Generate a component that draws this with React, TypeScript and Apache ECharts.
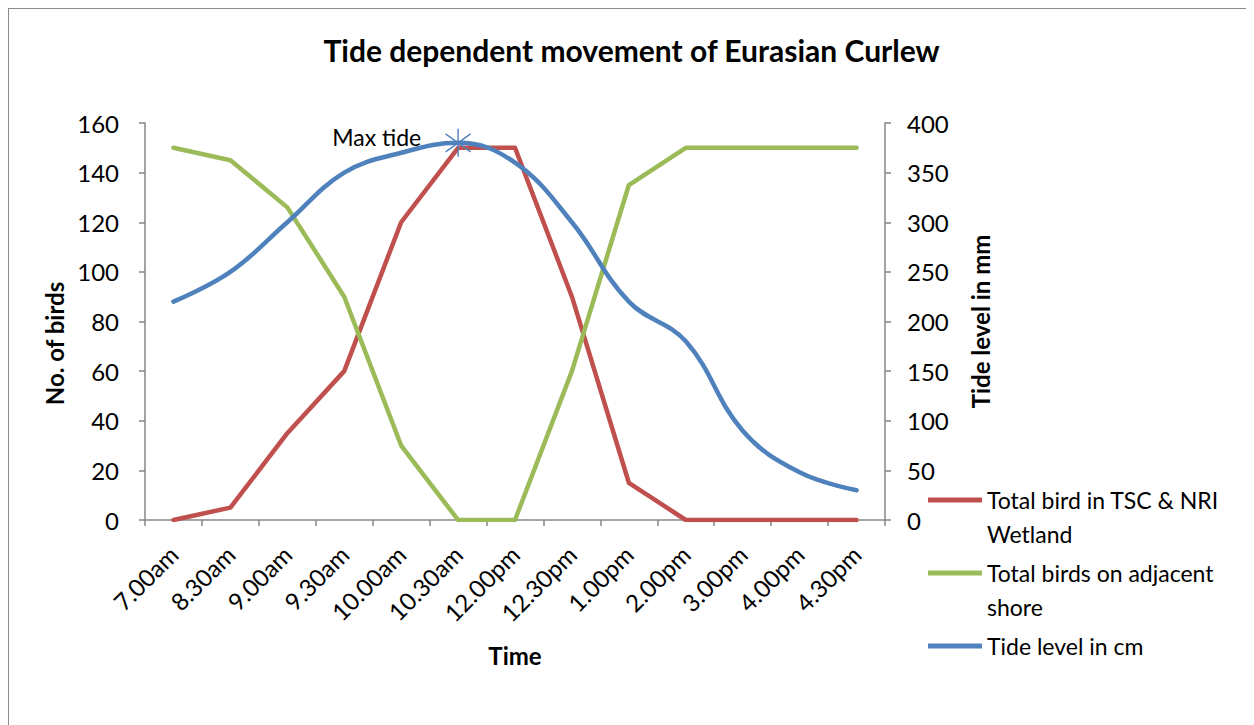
import React, { useEffect, useRef } from "react";
import * as echarts from "echarts";

const times = ["7.00am", "8.30am", "9.00am", "9.30am", "10.00am", "10.30am", "12.00pm", "12.30pm", "1.00pm", "2.00pm", "3.00pm", "4.00pm", "4.30pm"];
const wetlandBirds = [0, 5, 35, 60, 120, 150, 150, 90, 15, 0, 0, 0, 0];
const shoreBirds = [150, 145, 126, 90, 30, 0, 0, 60, 135, 150, 150, 150, 150];
const tideLevel = [220, 250, 300, 350, 370, 380, 360, 300, 220, 180, 90, 48, 30];

const seriesNames = ["Total bird in TSC & NRI Wetland", "Total birds on adjacent shore", "Tide level in cm"];
const legendLabels = ["Total bird in TSC & NRI\nWetland", "Total birds on adjacent\nshore", "Tide level in cm\n "];

const FONT = "Lato";
const AXIS = "#868686";
// legend icon: a 5px bar at the top of a taller box so it lines up with the first text line
const LEGEND_ICON = "path://M0 0 L54 0 L54 5 L0 5 Z M0 39 L0.01 39 L0.01 39.01 Z";

export default function App() {
  const ref = useRef<HTMLDivElement>(null);
  useEffect(() => {
    if (!ref.current) return;
    const chart = echarts.init(ref.current, null, { renderer: "svg" });
    const axisLabelStyle = { color: "#000", fontFamily: FONT, fontSize: 24 };
    const nameStyle = { color: "#000", fontFamily: FONT, fontSize: 24, fontWeight: "bold" as const };
    chart.setOption({
      animation: false,
      backgroundColor: "#fff",
      title: {
        text: "Tide dependent movement of Eurasian Curlew",
        left: "center",
        top: 21,
        textStyle: { color: "#000", fontFamily: FONT, fontSize: 30, fontWeight: "bold" },
      },
      grid: { left: 136, right: 369, top: 114, bottom: 205, containLabel: false },
      legend: {
        orient: "vertical",
        left: 919,
        top: 474,
        padding: 0,
        itemGap: 5,
        itemWidth: 54,
        itemHeight: 39,
        icon: LEGEND_ICON,
        selectedMode: false,
        textStyle: { color: "#000", fontFamily: FONT, fontSize: 23, lineHeight: 34 },
        formatter: (name: string) => legendLabels[seriesNames.indexOf(name)],
        data: seriesNames,
      },
      xAxis: {
        type: "category",
        data: times,
        boundaryGap: true,
        name: "Time",
        nameLocation: "middle",
        nameGap: 123,
        nameTextStyle: nameStyle,
        axisLine: { lineStyle: { color: AXIS, width: 1.5 } },
        axisTick: { show: true, length: 6, alignWithLabel: false, lineStyle: { color: AXIS, width: 1.5 } },
        axisLabel: { ...axisLabelStyle, rotate: 45, margin: 30, interval: 0 },
        splitLine: { show: false },
      },
      yAxis: [
        {
          type: "value",
          min: 0,
          max: 160,
          interval: 20,
          name: "No. of birds",
          nameLocation: "middle",
          nameRotate: 90,
          nameGap: 72,
          nameTextStyle: { ...nameStyle, padding: [0, 44, 0, 0] },
          axisLine: { show: true, lineStyle: { color: AXIS, width: 1.5 } },
          axisTick: { show: true, length: 6, lineStyle: { color: AXIS, width: 1.5 } },
          axisLabel: { ...axisLabelStyle, margin: 26 },
          splitLine: { show: false },
        },
        {
          type: "value",
          min: 0,
          max: 400,
          interval: 50,
          name: "Tide level in mm",
          nameLocation: "middle",
          nameRotate: 90,
          nameGap: 83,
          nameTextStyle: nameStyle,
          position: "right",
          axisLine: { show: true, lineStyle: { color: AXIS, width: 1.5 } },
          axisTick: { show: true, length: 6, lineStyle: { color: AXIS, width: 1.5 } },
          axisLabel: { ...axisLabelStyle, margin: 22 },
          splitLine: { show: false },
        },
      ],
      series: [
        {
          name: seriesNames[0],
          type: "line",
          data: wetlandBirds,
          yAxisIndex: 0,
          symbol: "none",
          color: "#C0504D",
          lineStyle: { width: 4.5, color: "#C0504D", cap: "round", join: "round" },
        },
        {
          name: seriesNames[1],
          type: "line",
          data: shoreBirds,
          yAxisIndex: 0,
          symbol: "none",
          color: "#9BBB59",
          lineStyle: { width: 4.5, color: "#9BBB59", cap: "round", join: "round" },
        },
        {
          name: seriesNames[2],
          type: "line",
          data: tideLevel,
          yAxisIndex: 1,
          symbol: "none",
          smooth: 0.4,
          color: "#4F81BD",
          lineStyle: { width: 4.5, color: "#4F81BD", cap: "round", join: "round" },
          markPoint: {
            symbol: "path://M12 0 L12 28 M0 5 L24 23 M0 23 L24 5",
            symbolSize: [25, 28],
            itemStyle: { color: "none", borderColor: "#4F81BD", borderWidth: 1.5 },
            label: {
              show: true,
              position: "left",
              distance: 22,
              offset: [0, -6],
              formatter: "Max tide",
              color: "#000",
              fontFamily: FONT,
              fontSize: 23,
            },
            data: [{ type: "max", name: "Max tide" }],
          },
        },
      ],
    });
    return () => chart.dispose();
  }, []);
  return (
    <div
      style={{
        width: 1246,
        height: 717,
        boxSizing: "border-box",
        borderLeft: "1px solid #8c8c8c",
        borderTop: "1px solid #8c8c8c",
        overflow: "hidden",
        background: "#fff",
      }}
    >
      <div ref={ref} style={{ width: 1245, height: 716 }} />
    </div>
  );
}
